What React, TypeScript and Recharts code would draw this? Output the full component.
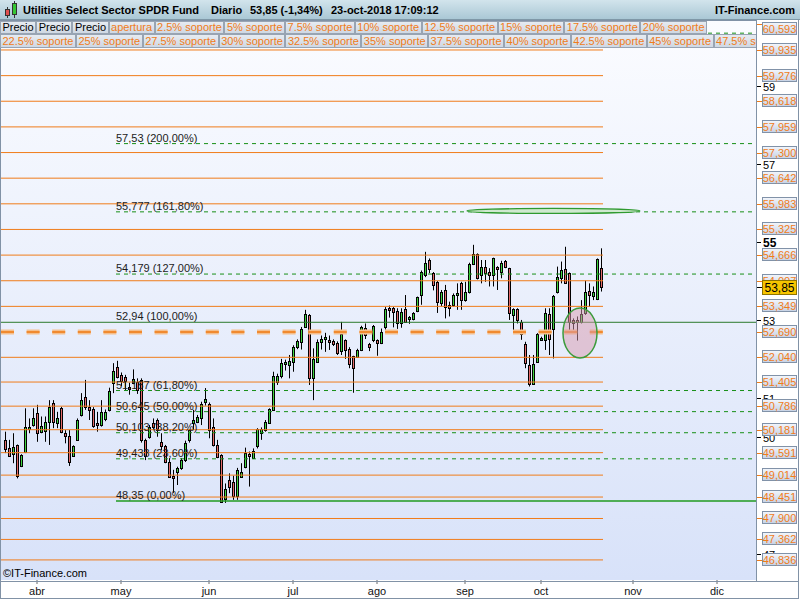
import React from 'react';
import { ComposedChart, Bar, XAxis, YAxis, ReferenceLine, ReferenceDot } from 'recharts';

// daily candles, XLU 20-mar-2018 .. 23-oct-2018
const opens = [
  49.92, 49.70, 49.56, 49.79, 49.25, 49.62, 50.20, 50.30, 50.60, 50.13, 50.16, 50.39, 50.86, 50.35, 50.73, 50.09, 50.02, 49.51, 49.92, 50.56,
  51.03, 50.77, 50.70, 50.36, 50.30, 50.45, 50.69, 51.37, 51.78, 51.59, 51.54, 51.27, 51.39, 51.40, 51.46, 49.92, 49.99, 50.36, 50.43, 49.87,
  49.75, 49.36, 49.00, 49.10, 49.19, 49.40, 49.92, 50.35, 50.39, 50.47, 50.88, 50.84, 50.24, 49.79, 49.53, 48.39, 48.89, 48.85, 48.49, 48.97,
  49.23, 49.56, 49.45, 49.75, 50.10, 50.17, 50.36, 50.69, 51.41, 51.56, 51.87, 51.84, 51.93, 52.30, 52.44, 52.83, 53.13, 51.50, 51.93, 52.44,
  52.52, 52.48, 52.46, 52.40, 52.21, 52.48, 52.25, 52.07, 52.06, 52.23, 52.79, 52.38, 52.48, 52.48, 52.40, 52.81, 53.30, 53.30, 53.23, 52.93,
  53.27, 53.02, 53.02, 53.24, 53.64, 54.15, 54.54, 54.21, 53.98, 53.43, 53.77, 53.38, 53.38, 53.64, 53.94, 53.51, 53.73, 54.44, 54.69, 54.16,
  54.37, 54.22, 54.16, 54.37, 54.22, 54.52, 54.33, 53.13, 53.27, 52.96, 52.38, 51.84, 51.36, 51.93, 52.49, 52.49, 53.15, 52.76, 53.73, 54.07,
  54.30, 54.20, 53.00, 53.00, 52.96, 53.17, 53.75, 53.62, 53.53, 54.33,
];
const highs = [
  50.13, 49.92, 50.09, 49.80, 49.55, 50.73, 50.47, 50.73, 50.82, 50.52, 50.52, 50.94, 50.94, 50.64, 50.77, 50.17, 50.17, 49.78, 50.47, 51.12,
  51.46, 50.94, 50.76, 50.64, 50.94, 50.70, 51.26, 51.89, 51.95, 51.65, 51.59, 51.39, 51.73, 51.50, 51.50, 49.95, 50.30, 50.47, 50.47, 50.09,
  49.79, 49.45, 49.15, 49.23, 49.45, 49.90, 50.20, 50.69, 50.56, 50.90, 51.25, 50.88, 50.47, 49.92, 49.55, 48.80, 49.06, 49.00, 49.20, 49.32,
  49.72, 49.62, 49.70, 50.22, 50.24, 50.43, 50.73, 51.67, 51.62, 52.00, 51.98, 52.10, 52.35, 52.50, 52.82, 53.26, 53.15, 52.27, 52.50, 52.60,
  52.67, 52.60, 52.50, 52.45, 52.95, 52.50, 52.30, 52.08, 52.26, 52.85, 52.91, 52.41, 52.87, 52.50, 52.78, 53.33, 53.37, 53.33, 53.30, 53.30,
  53.64, 53.10, 53.20, 53.60, 54.27, 54.75, 54.58, 54.23, 54.00, 53.77, 53.90, 53.47, 53.68, 53.94, 53.98, 53.98, 54.47, 54.93, 54.71, 54.54,
  54.54, 54.33, 54.60, 54.38, 54.52, 54.54, 54.34, 53.30, 53.30, 53.00, 52.44, 52.10, 52.10, 52.66, 52.57, 53.30, 53.30, 53.64, 54.37, 54.50,
  54.88, 54.22, 53.04, 53.09, 53.51, 54.01, 53.94, 53.86, 54.58, 54.84,
];
const lows = [
  49.58, 49.49, 49.32, 48.93, 49.22, 49.58, 50.09, 50.26, 49.87, 50.09, 49.87, 49.79, 50.22, 50.22, 50.09, 49.83, 49.25, 49.48, 49.90, 50.52,
  50.69, 50.43, 50.23, 50.13, 50.26, 50.40, 50.65, 51.12, 51.50, 51.30, 51.20, 51.08, 51.35, 51.10, 49.85, 49.40, 49.95, 50.17, 50.00, 49.66,
  49.32, 48.94, 48.56, 48.76, 49.15, 49.35, 49.85, 50.17, 50.35, 50.30, 50.80, 49.96, 49.75, 49.45, 48.30, 48.30, 48.55, 48.38, 48.38, 48.94,
  49.19, 48.72, 49.43, 49.70, 49.92, 50.13, 50.33, 50.66, 51.33, 51.50, 51.70, 51.50, 51.67, 52.25, 52.24, 52.82, 51.33, 50.94, 51.90, 52.24,
  52.18, 52.23, 52.33, 52.10, 52.10, 52.00, 51.76, 51.13, 52.03, 52.20, 52.51, 52.20, 52.43, 52.08, 52.38, 52.75, 53.06, 52.81, 52.77, 52.80,
  52.93, 52.90, 52.99, 53.20, 53.39, 54.10, 54.20, 53.76, 53.18, 53.35, 53.04, 53.09, 53.34, 53.26, 53.26, 53.47, 53.68, 54.41, 54.04, 53.94,
  53.98, 53.86, 53.86, 53.77, 54.07, 54.33, 53.00, 52.66, 52.91, 52.49, 51.76, 51.29, 51.33, 51.93, 52.47, 52.23, 52.10, 52.01, 53.68, 53.94,
  53.94, 52.66, 52.70, 52.47, 52.91, 53.13, 53.34, 53.51, 53.51, 53.73,
];
const closes = [
  49.68, 49.51, 49.73, 48.99, 49.53, 50.24, 50.25, 50.47, 50.09, 50.28, 50.39, 50.77, 50.39, 50.47, 50.13, 50.02, 49.36, 49.76, 50.43, 50.94,
  50.77, 50.69, 50.28, 50.30, 50.64, 50.64, 51.18, 51.70, 51.54, 51.42, 51.42, 51.22, 51.48, 51.20, 49.92, 49.51, 50.26, 50.26, 50.17, 49.75,
  49.36, 48.97, 48.94, 49.19, 49.40, 49.85, 50.17, 50.43, 50.50, 50.84, 50.96, 50.17, 49.79, 49.49, 48.33, 48.65, 48.72, 48.49, 49.15, 49.10,
  49.59, 49.51, 49.64, 50.19, 50.19, 50.39, 50.71, 51.56, 51.56, 51.89, 51.93, 51.95, 52.31, 52.46, 52.76, 53.15, 51.50, 51.99, 52.44, 52.51,
  52.56, 52.44, 52.38, 52.14, 52.63, 52.23, 51.87, 51.76, 52.23, 52.81, 52.61, 52.30, 52.84, 52.42, 52.70, 53.27, 53.26, 53.21, 52.93, 53.21,
  52.96, 53.07, 53.19, 53.58, 54.24, 54.47, 54.30, 53.90, 53.47, 53.73, 53.34, 53.30, 53.64, 53.70, 53.51, 53.73, 54.44, 54.69, 54.07, 54.37,
  54.20, 54.16, 54.58, 54.30, 54.47, 54.35, 53.17, 53.27, 53.00, 52.64, 51.89, 51.36, 51.87, 52.64, 52.53, 53.17, 52.50, 53.62, 54.11, 54.28,
  53.96, 52.96, 52.93, 52.96, 53.15, 53.73, 53.64, 53.73, 54.56, 53.85,
];

const monthTicks = [8, 29, 51, 72, 93, 115, 134, 157, 178];
const monthLabels = ['abr', 'may', 'jun', 'jul', 'ago', 'sep', 'oct', 'nov', 'dic'];

// horizontal support lines (orange) and their axis labels
const supportLevels = [
  60.593, 59.935, 59.276, 58.618, 57.959, 57.3, 56.642, 55.983, 55.325, 54.666, 54.007, 53.349,
  52.69, 52.04, 51.405, 50.786, 50.181, 49.591, 49.014, 48.451, 47.9, 47.362, 46.836,
];
const openLevel = 52.69;
// round-number labels that the boxes do not hide completely
const roundPrices = [47, 50, 51, 53, 55, 57, 59];
const lastPrice = 53.85;

// fibonacci levels (the 261,8% one sits under the button bar, its label is not shown)
const fibDashed = [60.367, 57.53, 55.777, 54.179, 51.187, 50.645, 50.103, 49.433];
const fibDashedLabels = ['', '57,53 (200,00%)', '55,777 (161,80%)', '54,179 (127,00%)', '51,187 (61,80%)', '50,645 (50,00%)', '50,103 (38,20%)', '49,433 (23,60%)'];
const fibHigh = 52.94;
const fibLow = 48.35;

const row2Buttons = ['Precio', 'Precio', 'Precio', 'apertura', '2.5% soporte', '5% soporte', '7.5% soporte', '10% soporte', '12.5% soporte', '15% soporte', '17.5% soporte', '20% soporte'];
const row3Buttons = ['22.5% soporte', '25% soporte', '27.5% soporte', '30% soporte', '32.5% soporte', '35% soporte', '37.5% soporte', '40% soporte', '42.5% soporte', '45% soporte', '47.5% soporte'];

const candles = opens.map((o, i) => ({ i, o, h: highs[i], l: lows[i], c: closes[i], range: [lows[i], highs[i]] }));

const X_MIN = -1;
const X_MAX = 187.75;
const FIB_START = 27.75;
const LINE_END = candles.length - 0.5;

const ORANGE = '#f07c1a';
const GREEN = '#178f17';
const FONT = '"Liberation Sans", Arial, sans-serif';

const Candle = (props: any) => {
  const { x, y, width, height, payload } = props;
  if (!payload || payload.o == null) return null;
  const top = Math.min(y, y + height);
  const bot = Math.max(y, y + height);
  const span = payload.h - payload.l || 1;
  const py = (v: number) => top + ((payload.h - v) / span) * (bot - top);
  const cx = Math.round(x + width / 2) + 0.5;
  const up = payload.c >= payload.o;
  let bTop = Math.round(py(Math.max(payload.o, payload.c))) + 0.5;
  let bBot = Math.round(py(Math.min(payload.o, payload.c))) + 0.5;
  if (bBot - bTop < 1) bBot = bTop + 1;
  return (
    <g>
      <line x1={cx} x2={cx} y1={top} y2={bot} stroke="#000" strokeWidth={1} />
      <rect x={cx - 1} y={bTop} width={2} height={bBot - bTop} fill={up ? '#3fd43f' : '#e46a6a'} stroke="#000" strokeWidth={1} />
    </g>
  );
};

const PriceTick = ({ x, y, payload }: any) => {
  const v = payload.value;
  const ly = Math.round(y) + 0.5;
  if (v === lastPrice) {
    return (
      <g>
        <line x1={x} x2={x + 6} y1={ly} y2={ly} stroke="#000" />
        <rect x={x + 6.5} y={ly - 7} width={34} height={14} fill="#f7c500" stroke="#8f7400" />
        <text x={x + 23.5} y={ly + 4.5} textAnchor="middle" fontSize={12} fill="#000">53,85</text>
      </g>
    );
  }
  if (Number.isInteger(v)) {
    const big = v === 55;
    return (
      <g>
        <line x1={x} x2={x + 5} y1={ly} y2={ly} stroke="#000" />
        <text x={x + 7} y={ly + 4} fontSize={big ? 12 : 11} fontWeight={big ? 'bold' : 'normal'} fill="#000">{v}</text>
      </g>
    );
  }
  const top = Math.max(ly - 7, 22.5);
  return (
    <g>
      <line x1={x} x2={x + 6} y1={ly} y2={ly} stroke={ORANGE} />
      <rect x={x + 6.5} y={top} width={34} height={12} fill="url(#axisBox)" stroke="#8192a8" />
      <text x={x + 23.5} y={top + 10.5} textAnchor="middle" fontSize={11} fill={ORANGE}>{v.toFixed(3).replace('.', ',')}</text>
    </g>
  );
};

const FibLabel = ({ viewBox, text }: any) => {
  if (!viewBox || !text) return null;
  return <text x={viewBox.x} y={viewBox.y - 2} fontSize={11} fill="#1c1c1c">{text}</text>;
};

const btnStyle = (label: string, h: number): React.CSSProperties => ({
  height: h,
  lineHeight: `${h - 2}px`,
  padding: '0 1.5px',
  border: '1px solid #98a4b3',
  boxSizing: 'border-box',
  background: 'linear-gradient(#e6ebf1, #cfd8e3)',
  color: label === 'Precio' ? '#000' : ORANGE,
  fontSize: 11,
  whiteSpace: 'nowrap',
  flex: 'none',
});

export default function App() {
  return (
    <div style={{ position: 'absolute', left: 0, top: 0, width: 800, height: 600, background: '#fff', fontFamily: FONT, overflow: 'hidden' }}>
      <svg width={0} height={0} style={{ position: 'absolute' }}>
        <defs>
          <linearGradient id="axisBox" x1="0" y1="0" x2="0" y2="1">
            <stop offset="0%" stopColor="#f3f6fb" />
            <stop offset="100%" stopColor="#c6d2e5" />
          </linearGradient>
        </defs>
      </svg>
      <div style={{ position: 'absolute', left: 1, top: 20, width: 755, height: 560, background: 'linear-gradient(#fbfcff, #d8e2f9)' }} />
      <div style={{ position: 'absolute', left: 0, top: 0 }}>
        <ComposedChart width={800} height={600} data={candles} margin={{ top: 20, right: 0, bottom: 0, left: 1 }}>
          <XAxis
            type="number"
            dataKey="i"
            domain={[X_MIN, X_MAX]}
            allowDataOverflow
            ticks={monthTicks}
            interval={0}
            tickFormatter={(v: number) => monthLabels[monthTicks.indexOf(v)]}
            axisLine={false}
            tickLine={{ stroke: '#6b6b6b' }}
            tickSize={4}
            tickMargin={3}
            height={20}
            tick={{ fontSize: 11, fill: '#111' }}
          />
          <YAxis
            orientation="right"
            type="number"
            domain={[46.32, 60.705]}
            allowDataOverflow
            width={44}
            ticks={[...roundPrices, ...supportLevels, lastPrice]}
            interval={0}
            axisLine={false}
            tickLine={false}
            tickSize={0}
            tickMargin={0}
            tick={<PriceTick />}
          />

          {supportLevels.filter((v) => v !== openLevel).map((v) => (
            <ReferenceLine key={`s${v}`} segment={[{ x: X_MIN, y: v }, { x: LINE_END, y: v }]} stroke={ORANGE} strokeWidth={1} />
          ))}
          <ReferenceLine segment={[{ x: X_MIN, y: openLevel }, { x: LINE_END, y: openLevel }]} stroke="#f5bf8c" strokeWidth={5} strokeDasharray="13 12.6" />
          <ReferenceLine segment={[{ x: X_MIN, y: openLevel }, { x: LINE_END, y: openLevel }]} stroke="#f08a30" strokeWidth={2} strokeDasharray="13 12.6" />

          {fibDashed.map((v, k) => (
            <ReferenceLine
              key={`f${v}`}
              segment={[{ x: FIB_START, y: v }, { x: X_MAX - 1, y: v }]}
              stroke={GREEN}
              strokeDasharray="4 4"
              label={<FibLabel text={fibDashedLabels[k]} />}
            />
          ))}
          <ReferenceLine segment={[{ x: X_MIN, y: fibHigh }, { x: X_MAX, y: fibHigh }]} stroke="#2c7a2c" strokeWidth={1} />
          <ReferenceLine segment={[{ x: FIB_START, y: fibHigh }, { x: X_MAX, y: fibHigh }]} stroke="none" label={<FibLabel text="52,94 (100,00%)" />} />
          <ReferenceLine segment={[{ x: FIB_START, y: fibLow }, { x: X_MAX, y: fibLow }]} stroke="#1f9a1f" strokeWidth={1.5} label={<FibLabel text="48,35 (0,00%)" />} />

          <ReferenceDot
            x={137.1}
            y={55.8}
            r={10}
            shape={(p: any) => <ellipse cx={p.cx} cy={p.cy} rx={86.5} ry={2.5} fill="#cfe9cf" stroke="#2f9a2f" strokeWidth={1.2} />}
          />
          <ReferenceDot
            x={143.75}
            y={52.665}
            r={10}
            shape={(p: any) => <ellipse cx={p.cx} cy={p.cy} rx={17} ry={25} fill="#d799ad" fillOpacity={0.5} stroke="#3b9b3b" strokeWidth={1.5} />}
          />

          <Bar dataKey="range" shape={<Candle />} barSize={3} isAnimationActive={false} />
        </ComposedChart>
      </div>

      {/* frames */}
      <div style={{ position: 'absolute', left: 0, top: 0, width: 799, height: 599, border: '1px solid #8192a6', boxSizing: 'border-box', pointerEvents: 'none' }} />
      <div style={{ position: 'absolute', left: 0, top: 20, width: 757, height: 562, border: '1px solid #8192a6', boxSizing: 'border-box', pointerEvents: 'none' }} />
      <div style={{ position: 'absolute', left: 756, top: 581, width: 43, height: 1, background: '#8192a6' }} />

      {/* title bar */}
      <div style={{ position: 'absolute', left: 0, top: 0, width: 800, height: 20, background: 'linear-gradient(#d2e4ec, #aac8d5)', borderBottom: '1px solid #7f98a7', boxSizing: 'border-box', fontSize: 11, fontWeight: 'bold', lineHeight: '20px', color: '#000', whiteSpace: 'pre' }}>
        <svg width={16} height={18} style={{ position: 'absolute', left: 3, top: 1 }}>
          <line x1={4.5} x2={4.5} y1={6} y2={17} stroke="#333" />
          <rect x={2.5} y={8.5} width={4} height={6} fill="#e05050" stroke="#333" />
          <line x1={11.5} x2={11.5} y1={0} y2={17} stroke="#333" />
          <rect x={9.5} y={2.5} width={4} height={11} fill="#35c835" stroke="#333" />
        </svg>
        <span style={{ position: 'absolute', left: 23 }}>Utilities Select Sector SPDR Fund</span>
        <span style={{ position: 'absolute', left: 211 }}>Diario</span>
        <span style={{ position: 'absolute', left: 250 }}>53,85 (-1,34%)</span>
        <span style={{ position: 'absolute', left: 331 }}>23-oct-2018 17:09:12</span>
        <span style={{ position: 'absolute', right: 5 }}>IT-Finance.com</span>
      </div>

      {/* indicator buttons */}
      <div style={{ position: 'absolute', left: 0, top: 21, height: 13, display: 'flex' }}>
        {row2Buttons.map((b, k) => (
          <div key={k} style={btnStyle(b, 13)}>{b}</div>
        ))}
      </div>
      <div style={{ position: 'absolute', left: 0, top: 34, width: 756, height: 14, display: 'flex', overflow: 'hidden' }}>
        {row3Buttons.map((b, k) => (
          <div key={k} style={btnStyle(b, 14)}>{b}</div>
        ))}
      </div>

      <div style={{ position: 'absolute', left: 3, top: 567, fontSize: 11, color: '#000' }}>©IT-Finance.com</div>
    </div>
  );
}
